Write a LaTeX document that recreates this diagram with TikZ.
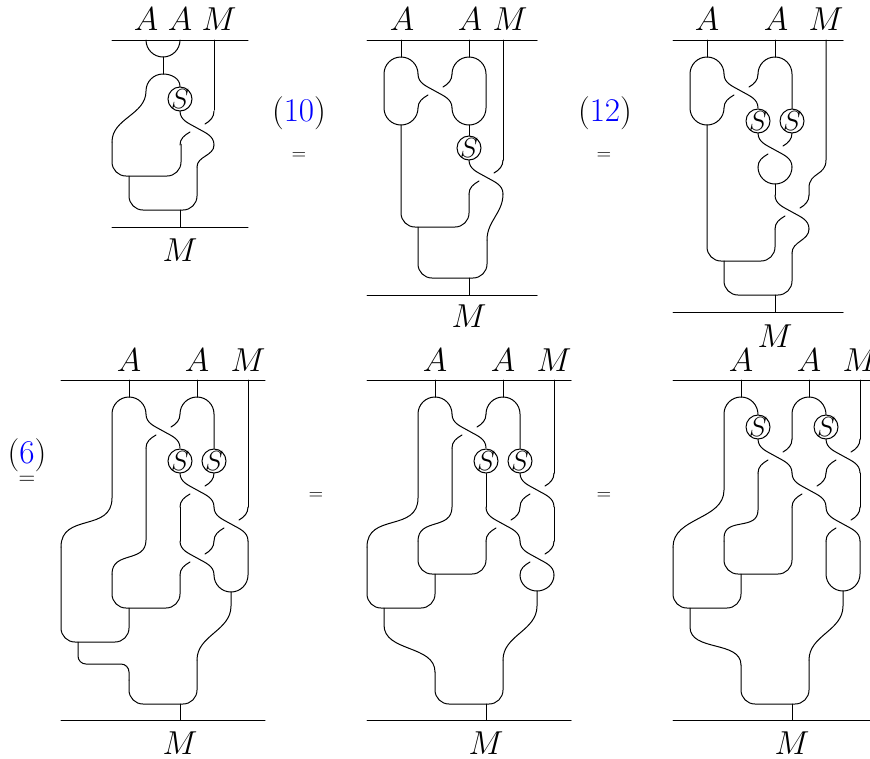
\documentclass[tikz,border=0pt]{standalone}
\usepackage{amsmath,amssymb}
\usepackage{xcolor}
\usetikzlibrary{positioning}
\newcommand{\antip}{\raisebox{-0.34em}[0pt][0pt]{\makebox[0pt]{$S$}}}
\tikzset{
    lab/.style={inner sep=0pt, font=\fontsize{25}{28}\selectfont},
    eqs/.style={inner sep=0pt, font=\fontsize{14}{16}\selectfont},
    sbox/.style={draw, circle, minimum size=18pt, inner sep=0pt, font=\fontsize{21.5}{26}\selectfont},
    cup/.style={rounded corners=10.5pt},
    tight/.style={rounded corners=6pt},
    flat/.style={out=-90,in=90,looseness=1.25},
    braid/.pic={
        \draw (0,0) to[out=-90,in=150] (17,-17) to[out=-30,in=90] (34,-34);
        \draw (34,0) to[out=-90,in=30] (25,-13);
        \draw (10,-21) to[out=210,in=90] (0,-34);
    }
}
\begin{document}
\begin{tikzpicture}[x=0.75pt, y=0.75pt, line width=0.75pt, line cap=round]
    \useasboundingbox (0,0) rectangle (870,-758);

    \node[lab] (a11) at (146,-19) {$A$};
    \node[lab] (a12) at (180,-19) {$A$};
    \node[lab] (m1) at (219,-19) {$M$};
    \node[lab] (m1b) at (180,-250) {$M$};
    \node[sbox] (s1) at (180,-99) {\antip};
    \draw (112,-40) -- (248,-40);
    \draw (112,-227) -- (248,-227);
    \draw (146,-40) to[out=-90,in=180] (163,-57) to[out=0,in=-90] (180,-40);
    \draw (163,-57) -- (163,-74);
    \draw (s1.north) to[out=90,in=0] (163,-74) to[out=180,in=90] (146,-91) to[out=-90,in=90] (112,-142);
    \draw[cup] (112,-142) -- (112,-176) -- (181,-176) -- (181,-144);
    \draw (214,-40) -- (214,-110);
    \pic at (180,-111) {braid};
    \draw (214,-145) to[out=-90,in=90] (197,-167);
    \draw[cup] (129,-176) -- (129,-210) -- (197,-210) -- (197,-167);
    \draw (180,-210) -- (180,-227);

    \node[lab] (a21) at (402,-19) {$A$};
    \node[lab] (a22) at (470,-19) {$A$};
    \node[lab] (m2) at (510,-19) {$M$};
    \node[lab] (m2b) at (469,-316) {$M$};
    \node[sbox] (s2) at (469,-148) {\antip};
    \draw (367,-40) -- (537,-40);
    \draw (367,-295) -- (537,-295);
    \draw (401,-40) -- (401,-57);
    \draw (469,-40) -- (469,-57);
    \draw (418,-74) to[out=90,in=0] (401,-57) to[out=180,in=90] (384,-74) -- (384,-108) to[out=-90,in=180] (401,-125) to[out=0,in=-90] (418,-108);
    \draw (452,-74) to[out=90,in=180] (469,-57) to[out=0,in=90] (486,-74) -- (486,-108) to[out=-90,in=0] (469,-125) to[out=180,in=-90] (452,-108);
    \pic at (418,-74) {braid};
    \draw (469,-125) -- (s2.north);
    \draw (503,-40) -- (503,-160);
    \pic at (469,-160) {braid};
    \draw (503,-194) to[out=-90,in=90] (487,-240);
    \draw[cup] (401,-125) -- (401,-227) -- (469,-227) -- (469,-194);
    \draw[cup] (418,-227) -- (418,-278) -- (487,-278) -- (487,-240);
    \draw (469,-278) -- (469,-295);

    \node[lab] (a31) at (707,-19) {$A$};
    \node[lab] (a32) at (776,-19) {$A$};
    \node[lab] (m3) at (826,-19) {$M$};
    \node[lab] (m3b) at (775,-336) {$M$};
    \node[sbox] (s31) at (758,-121) {\antip};
    \node[sbox] (s32) at (792,-121) {\antip};
    \draw (673,-40) -- (843,-40);
    \draw (673,-312) -- (843,-312);
    \draw (707,-40) -- (707,-57);
    \draw (775,-40) -- (775,-57);
    \draw (724,-74) to[out=90,in=0] (707,-57) to[out=180,in=90] (690,-74) -- (690,-108) to[out=-90,in=180] (707,-125) to[out=0,in=-90] (724,-108);
    \draw (758,-74) to[out=90,in=180] (775,-57) to[out=0,in=90] (792,-74) -- (s32.north);
    \pic at (724,-74) {braid};
    \pic at (758,-133) {braid};
    \draw (792,-167) to[out=-90,in=0] (775,-184) to[out=180,in=-90] (758,-167);
    \draw (775,-184) -- (775,-195);
    \draw (826,-40) -- (826,-160) to[flat] (809,-188) -- (809,-195);
    \pic at (775,-195) {braid};
    \draw (809,-229) to[out=-90,in=90] (792,-253);
    \draw[cup] (707,-125) -- (707,-261) -- (775,-261) -- (775,-229);
    \draw[cup] (724,-261) -- (724,-295) -- (792,-295) -- (792,-253);
    \draw (775,-295) -- (775,-312);

    \node[lab] (a41) at (129,-360) {$A$};
    \node[lab] (a42) at (197,-360) {$A$};
    \node[lab] (m4) at (248,-360) {$M$};
    \node[lab] (m4b) at (180,-743) {$M$};
    \node[sbox] (s41) at (180,-461) {\antip};
    \node[sbox] (s42) at (214,-461) {\antip};
    \draw (61,-380) -- (265,-380);
    \draw (61,-720) -- (265,-720);
    \draw (129,-380) -- (129,-397);
    \draw (197,-380) -- (197,-397);
    \draw (146,-414) to[out=90,in=0] (129,-397) to[out=180,in=90] (112,-414) -- (112,-498) to[flat] (61,-547);
    \draw (180,-414) to[out=90,in=180] (197,-397) to[out=0,in=90] (214,-414) -- (s42.north);
    \pic at (146,-414) {braid};
    \pic at (180,-473) {braid};
    \draw (248,-380) -- (248,-507);
    \pic at (214,-507) {braid};
    \draw (180,-507) -- (180,-541);
    \pic at (180,-541) {braid};
    \draw (146,-448) -- (146,-540) to[flat] (112,-574);
    \draw[cup] (112,-574) -- (112,-608) -- (180,-608) -- (180,-575);
    \draw (248,-541) -- (248,-575) to[out=-90,in=0] (231,-592) to[out=180,in=-90] (214,-575);
    \draw (231,-592) -- (231,-606) to[out=-90,in=90] (197,-660);
    \draw[cup] (61,-547) -- (61,-642) -- (129,-642) -- (129,-608);
    \draw[tight] (78,-642) -- (78,-664) -- (129,-664) -- (129,-680);
    \draw[cup] (129,-680) -- (129,-704) -- (197,-704) -- (197,-660);
    \draw (180,-704) -- (180,-720);

    \node[lab] (a51) at (435,-360) {$A$};
    \node[lab] (a52) at (503,-360) {$A$};
    \node[lab] (m5) at (554,-360) {$M$};
    \node[lab] (m5b) at (486,-743) {$M$};
    \node[sbox] (s51) at (486,-461) {\antip};
    \node[sbox] (s52) at (520,-461) {\antip};
    \draw (367,-380) -- (571,-380);
    \draw (367,-720) -- (571,-720);
    \draw (435,-380) -- (435,-397);
    \draw (503,-380) -- (503,-397);
    \draw (452,-414) to[out=90,in=0] (435,-397) to[out=180,in=90] (418,-414) -- (418,-498) to[flat] (367,-547);
    \draw (486,-414) to[out=90,in=180] (503,-397) to[out=0,in=90] (520,-414) -- (s52.north);
    \pic at (452,-414) {braid};
    \draw (s51.south) -- (486,-507);
    \draw (554,-380) -- (554,-473);
    \pic at (520,-473) {braid};
    \pic at (486,-507) {braid};
    \draw (554,-507) -- (554,-541);
    \pic at (520,-541) {braid};
    \draw (452,-448) -- (452,-507) to[flat] (418,-541);
    \draw[cup] (418,-541) -- (418,-574) -- (486,-574) -- (486,-541);
    \draw (554,-575) to[out=-90,in=0] (537,-591) to[out=180,in=-90] (520,-575);
    \draw (537,-591) -- (537,-606) to[out=-90,in=90] (503,-660);
    \draw[cup] (367,-547) -- (367,-608) -- (435,-608) -- (435,-574);
    \draw (384,-608) -- (384,-625) to[out=-90,in=90] (435,-672);
    \draw[cup] (435,-672) -- (435,-704) -- (503,-704) -- (503,-660);
    \draw (486,-704) -- (486,-720);

    \node[lab] (a61) at (741,-360) {$A$};
    \node[lab] (a62) at (809,-360) {$A$};
    \node[lab] (m6) at (860,-360) {$M$};
    \node[lab] (m6b) at (792,-743) {$M$};
    \node[sbox] (s61) at (758,-427) {\antip};
    \node[sbox] (s62) at (826,-427) {\antip};
    \draw (673,-380) -- (870,-380);
    \draw (673,-720) -- (870,-720);
    \draw (741,-380) -- (741,-397);
    \draw (809,-380) -- (809,-397);
    \draw (s61.north) to[out=90,in=0] (741,-397) to[out=180,in=90] (724,-414) -- (724,-490) to[out=-90,in=90] (673,-547);
    \draw (792,-439) -- (792,-414) to[out=90,in=180] (809,-397) to[out=0,in=90] (s62.north);
    \draw (860,-380) -- (860,-439);
    \pic at (758,-439) {braid};
    \pic at (826,-439) {braid};
    \pic at (792,-473) {braid};
    \draw (860,-473) -- (860,-507);
    \pic at (826,-507) {braid};
    \draw (758,-473) -- (758,-510) to[flat] (724,-538) -- (724,-541);
    \draw[cup] (724,-541) -- (724,-574) -- (792,-574) -- (792,-507);
    \draw (826,-541) -- (826,-574) to[out=-90,in=180] (843,-591) to[out=0,in=-90] (860,-574) -- (860,-541);
    \draw (843,-591) -- (843,-606) to[out=-90,in=90] (809,-660);
    \draw[cup] (673,-547) -- (673,-608) -- (741,-608) -- (741,-574);
    \draw (690,-608) -- (690,-627) to[out=-90,in=90] (741,-665);
    \draw[cup] (741,-665) -- (741,-704) -- (809,-704) -- (809,-660);
    \draw (792,-704) -- (792,-720);

    \node[lab] (e1) at (299,-113) {$(\textcolor{blue}{10})$};
    \node[eqs] (q1) at (299,-156) {$=$};
    \node[lab] (e2) at (605,-113) {$(\textcolor{blue}{12})$};
    \node[eqs] (q2) at (604,-156) {$=$};
    \node[lab] (e3) at (27,-455) {$(\textcolor{blue}{6})$};
    \node[eqs, font=\fontsize{16}{18}\selectfont] (q3) at (27,-480) {$=$};
    \node[eqs] (q4) at (316,-496) {$=$};
    \node[eqs] (q5) at (604,-496) {$=$};
\end{tikzpicture}
\end{document}
